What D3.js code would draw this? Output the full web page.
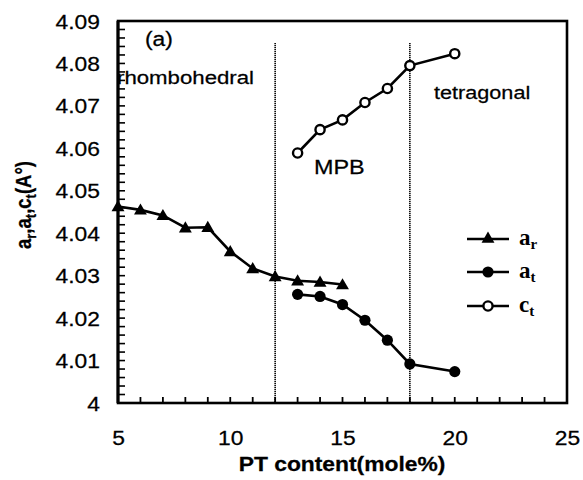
<!DOCTYPE html>
<html><head><meta charset="utf-8">
<script src="https://cdn.jsdelivr.net/npm/d3@7"></script>
<style>body{margin:0;background:#fff}svg{display:block}text{font-family:Arial,"Liberation Sans",sans-serif;fill:#000;stroke:#000;stroke-width:0.25px}</style>
</head><body><svg id="c" width="583" height="480"></svg>
<script>
const arX = [5,6,7,8,9,10,11,12,13,14,15];
const arY = [4.0463,4.0455,4.0442,4.0413,4.0414,4.0357,4.0317,4.0298,4.0288,4.0285,4.0279];
const atX = [13,14,15,16,17,18,20];
const atY = [4.0256,4.0251,4.0232,4.0195,4.0148,4.0092,4.0074];
const ctX = [13,14,15,16,17,18,20];
const ctY = [4.0589,4.0644,4.0667,4.0708,4.0741,4.0795,4.0823];
const yTicks = [4,4.01,4.02,4.03,4.04,4.05,4.06,4.07,4.08,4.09];
const yTickLabels = ["4","4.01","4.02","4.03","4.04","4.05","4.06","4.07","4.08","4.09"];
const xTicks = [5,10,15,20,25];
const phaseBounds = [12,18];

const SX = 1.17; // horizontal stretch of the lettering in the reference scan
const svg = d3.select("#c");
const L=118,R=567,T=21,B=403;
const x = d3.scaleLinear().domain([5,25]).range([L,R]);
const y = d3.scaleLinear().domain([4,4.09]).range([B,T]);

function stext(px,py,str,size,anchor,weight){
  return svg.append("text").attr("transform",`translate(${px},${py}) scale(${SX},1)`)
    .attr("text-anchor",anchor||"start").style("font-size",size+"px")
    .style("font-weight",weight||"normal").text(str);
}

// axes
const yAx = d3.axisLeft(y).tickValues(yTicks).tickFormat((d,i)=>yTickLabels[i]).tickSize(0).tickPadding(0);
const gy = svg.append("g").attr("transform",`translate(${L},0)`).call(yAx);
gy.select(".domain").remove();
gy.selectAll("text").style("font-size","19.5px").attr("dy","0.36em")
  .attr("x",-18/SX).attr("transform",`scale(${SX},1)`);
const yMinor = d3.range(0,46).map(i=>4+i*0.002);
svg.append("g").selectAll("line").data(yMinor).join("line")
  .attr("x1",L).attr("x2",L+7).attr("y1",d=>y(d)).attr("y2",d=>y(d))
  .attr("stroke","#000").attr("stroke-width",1.6);

const xAx = d3.axisBottom(x).tickValues(xTicks).tickSize(0).tickPadding(28);
const gx = svg.append("g").attr("transform",`translate(0,${B})`).call(xAx);
gx.select(".domain").remove();
gx.selectAll("text").style("font-size","19.5px").attr("transform",`scale(${SX},1)`);
const xMinor = d3.range(5,26);
svg.append("g").selectAll("line").data(xMinor).join("line")
  .attr("x1",d=>x(d)).attr("x2",d=>x(d)).attr("y1",B).attr("y2",B-6)
  .attr("stroke","#000").attr("stroke-width",1.8);

// frame
svg.append("rect").attr("x",L).attr("y",T).attr("width",R-L).attr("height",B-T)
  .attr("fill","none").attr("stroke","#000").attr("stroke-width",2.6);
svg.append("line").attr("x1",L).attr("x2",L).attr("y1",T).attr("y2",B).attr("stroke","#000").attr("stroke-width",3);

// phase boundaries
svg.append("g").selectAll("line").data(phaseBounds).join("line")
  .attr("x1",d=>x(d)).attr("x2",d=>x(d)).attr("y1",T+22).attr("y2",B)
  .attr("stroke","#000").attr("stroke-width",1.6).attr("stroke-dasharray","1.2,0.8");

// lines
const line = d3.line().x(d=>x(d[0])).y(d=>y(d[1]));
const ar = arX.map((v,i)=>[v,arY[i]]);
const at = atX.map((v,i)=>[v,atY[i]]);
const ct = ctX.map((v,i)=>[v,ctY[i]]);
[ar,at,ct].forEach(s=>svg.append("path").datum(s).attr("d",line).attr("fill","none").attr("stroke","#000").attr("stroke-width",2.6));

const tri = d3.symbol().type(d3.symbolTriangle).size(72);
svg.append("g").selectAll("path").data(ar).join("path").attr("d",tri)
  .attr("transform",d=>`translate(${x(d[0])},${y(d[1])+1})`).attr("fill","#000");
svg.append("g").selectAll("circle").data(at).join("circle")
  .attr("cx",d=>x(d[0])).attr("cy",d=>y(d[1])).attr("r",5.6).attr("fill","#000");
svg.append("g").selectAll("circle").data(ct).join("circle")
  .attr("cx",d=>x(d[0])).attr("cy",d=>y(d[1])).attr("r",4.6).attr("fill","#fff").attr("stroke","#000").attr("stroke-width",2.4);

// annotations
stext(145,46,"(a)",19.5);
stext(117,84,"rhombohedral",19);
stext(434,99,"tetragonal",18.5);
stext(314,174,"MPB",20);

// legend
const legend = [{sym:"tri",lab:"a",sub:"r"},{sym:"fill",lab:"a",sub:"t"},{sym:"open",lab:"c",sub:"t"}];
const legY = [239,272,306];
const lg = svg.append("g");
legend.forEach((d,i)=>{
  const yy = legY[i];
  lg.append("line").attr("x1",467).attr("x2",509).attr("y1",yy).attr("y2",yy).attr("stroke","#000").attr("stroke-width",2.6);
  if(d.sym==="tri") lg.append("path").attr("d",tri).attr("transform",`translate(488,${yy})`).attr("fill","#000");
  if(d.sym==="fill") lg.append("circle").attr("cx",488).attr("cy",yy).attr("r",5.6).attr("fill","#000");
  if(d.sym==="open") lg.append("circle").attr("cx",488).attr("cy",yy).attr("r",4.6).attr("fill","#fff").attr("stroke","#000").attr("stroke-width",2.4);
  const t = lg.append("text").attr("x",519).attr("y",yy+6).style("font-family","'Liberation Serif','Times New Roman',serif").style("font-size","23px").style("font-weight","bold").style("stroke-width","0");
  t.append("tspan").text(d.lab);
  t.append("tspan").attr("dy",4).style("font-size","15px").text(d.sub);
});

// axis titles
stext(342,471,"PT content(mole%)",19.5,"middle","bold");
const yt = svg.append("text").attr("transform",`translate(31,205) rotate(-90) scale(1,${SX})`).attr("text-anchor","middle")
  .style("font-size","18.5px").style("font-weight","bold");
yt.append("tspan").text("a");
yt.append("tspan").attr("dy",4).style("font-size","13px").text("r");
yt.append("tspan").attr("dy",-4).text(",a");
yt.append("tspan").attr("dy",4).style("font-size","13px").text("t");
yt.append("tspan").attr("dy",-4).text(",c");
yt.append("tspan").attr("dy",4).style("font-size","13px").text("t");
yt.append("tspan").attr("dy",-4).text("(A°)");
</script></body></html>
